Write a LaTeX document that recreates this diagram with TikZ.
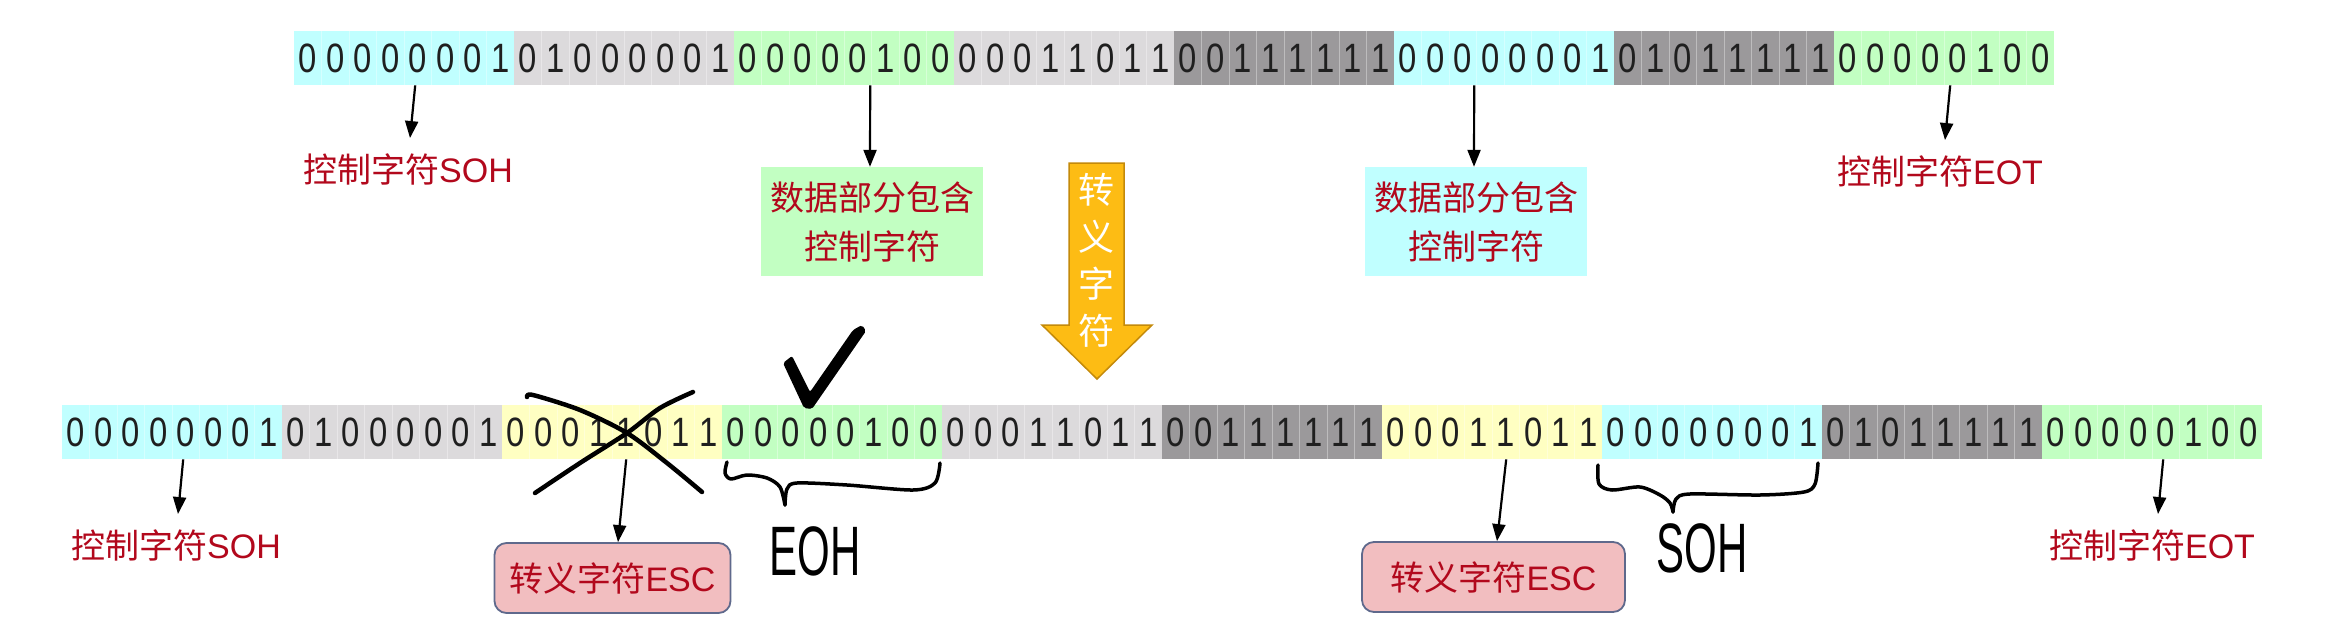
\documentclass[tikz,border=0pt]{standalone}
\usepackage{fontspec}
\usepackage{graphicx}
\setmainfont{Liberation Sans}
\newfontfamily\cjk{Noto Sans CJK SC}
\usetikzlibrary{arrows.meta,calc}
\definecolor{cyanc}{RGB}{192,255,255}
\definecolor{lgray}{RGB}{220,218,220}
\definecolor{greenc}{RGB}{194,255,194}
\definecolor{dgray}{RGB}{155,153,155}
\definecolor{yellowc}{RGB}{255,255,194}
\definecolor{redtxt}{RGB}{178,8,28}
\definecolor{orangec}{RGB}{253,188,20}
\definecolor{orangeb}{RGB}{196,138,10}
\definecolor{pinkc}{RGB}{242,190,192}
\definecolor{pinkb}{RGB}{95,105,140}
\def\bitloop#1{\ifx#1\relax\else\makebox[27.5pt]{\scalebox{0.8}[1]{#1}}\expandafter\bitloop\fi}
\newcommand\bitstr[1]{\expandafter\bitloop#1\relax}
\tikzset{
  byte/.style={draw=none, minimum width=220pt, minimum height=54pt, inner sep=0pt,
    anchor=north west, font=\fontsize{41}{41}\selectfont, text=black!88,
    path picture={\foreach \k in {1,...,7}{\draw[white,opacity=0.35,line width=1pt]
      ($(path picture bounding box.north west)+(\k*27.5,0)$) --
      ($(path picture bounding box.south west)+(\k*27.5,0)$);}}},
  lbl/.style={text=redtxt, font=\fontsize{34}{49}\selectfont, inner sep=0pt, align=center},
  infobox/.style={lbl, minimum width=222pt, minimum height=109pt},
  escbox/.style={lbl, fill=pinkc, draw=pinkb, line width=1.8pt, rounded corners=12pt, minimum height=70pt},
  arr/.style={line width=2.2pt, -{Triangle[length=17pt,width=13pt]}},
  pen/.style={line width=4.5pt, line cap=round, line join=round},
  bracepen/.style={line width=3.5pt, line cap=round, line join=round},
  hand/.style={font=\fontsize{70}{70}\selectfont, inner sep=0pt}
}
\begin{document}
\begin{tikzpicture}[x=1pt,y=-1pt]
\fill[white] (0,0) rectangle (2329,621);
\useasboundingbox (0,0) rectangle (2329,621);

% top row
\foreach \cc/\bb [count=\i] in {cyanc/00000001, lgray/01000001, greenc/00000100, lgray/00011011,
    dgray/00111111, cyanc/00000001, dgray/01011111, greenc/00000100}
  \node[byte, fill=\cc] (t\i) at ({294+(\i-1)*220},31) {\bitstr{\bb}};

% bottom row
\foreach \cc/\bb [count=\i] in {cyanc/00000001, lgray/01000001, yellowc/00011011, greenc/00000100,
    lgray/00011011, dgray/00111111, yellowc/00011011, cyanc/00000001, dgray/01011111, greenc/00000100}
  \node[byte, fill=\cc] (b\i) at ({62+(\i-1)*220},405) {\bitstr{\bb}};

% top labels
\node[lbl] (tsoh) at (408,169) {{\cjk 控制字符}SOH};
\node[lbl] (teot) at (1940,171) {{\cjk 控制字符}EOT};
\node[infobox, fill=greenc] (gbox) at (872,221.5) {{\cjk 数据部分包含}\\{\cjk 控制字符}};
\node[infobox, fill=cyanc] (cbox) at (1476,221.5) {{\cjk 数据部分包含}\\{\cjk 控制字符}};

\draw[arr] ([xshift=11pt]t1.south) -- ([xshift=2pt,yshift=15pt]tsoh.north);
\draw[arr] ([xshift=26pt]t3.south) -- ([xshift=-2pt]gbox.north);
\draw[arr] ([xshift=-30pt]t6.south) -- ([xshift=-2pt]cbox.north);
\draw[arr] ([xshift=6pt]t8.south) -- ([xshift=5pt,yshift=15pt]teot.north);

% big orange arrow
\draw[fill=orangec, draw=orangeb, line width=1.5pt, line join=miter]
  (1069,163) -- (1124,163) -- (1124,325) -- (1152,325) -- (1097,379) -- (1042,325) -- (1069,325) -- cycle;
\node[text=white, font={\fontsize{36}{47}\cjk}, align=center, inner sep=0pt] (esclbl) at (1096.5,260) {转\\义\\字\\符};

% bottom labels
\node[lbl] (bsoh) at (176,545) {{\cjk 控制字符}SOH};
\node[lbl] (beot) at (2152,545) {{\cjk 控制字符}EOT};
\node[escbox, minimum width=236pt] (esc1) at (612.5,578) {{\cjk 转义字符}ESC};
\node[escbox, minimum width=263pt] (esc2) at (1493.5,577) {{\cjk 转义字符}ESC};

\draw[arr] ([xshift=11pt]b1.south) -- ([xshift=2pt,yshift=15pt]bsoh.north);
\draw[arr] ([xshift=11pt]b10.south) -- ([xshift=6pt,yshift=15pt]beot.north);
\draw[arr] ([xshift=14pt]b3.south) -- ([xshift=5.5pt]esc1.north);
\draw[arr] ([xshift=14pt]b7.south) -- ([xshift=3.5pt]esc2.north);

% cross over the first ESC byte
\draw[pen] plot[smooth] coordinates {(527,397) (533,395) (580,410) (627,433) (667,463) (702,492)};
\draw[pen] plot[smooth] coordinates {(693,392) (660,408) (627,433) (580,463) (535,493)};

% check mark
\fill[black, rounded corners=2pt] (783,363) -- (792,356) -- (810,392) -- (853,330) -- (862,325)
  -- (866,331) -- (812,409) -- (804,408) -- cycle;

% braces
\draw[bracepen] plot[smooth] coordinates {(727,462) (725,473) (731,479) (747,475) (767,478) (780,487) (785,505)};
\draw[bracepen] plot[smooth] coordinates {(785,505) (787,489) (797,483) (847,485) (913,490) (935,483) (940,463)};
\draw[bracepen] plot[smooth] coordinates {(1598,465) (1599,484) (1612,490) (1640,487) (1660,495) (1670,503) (1673,512)};
\draw[bracepen] plot[smooth] coordinates {(1673,512) (1676,499) (1690,494) (1760,495) (1804,492) (1815,484) (1818,463)};

\node[hand] (eoh) at (815,551) {\scalebox{0.6}[1]{EOH}};
\node[hand] (soh) at (1702,548) {\scalebox{0.6}[1]{SOH}};
\end{tikzpicture}
\end{document}
